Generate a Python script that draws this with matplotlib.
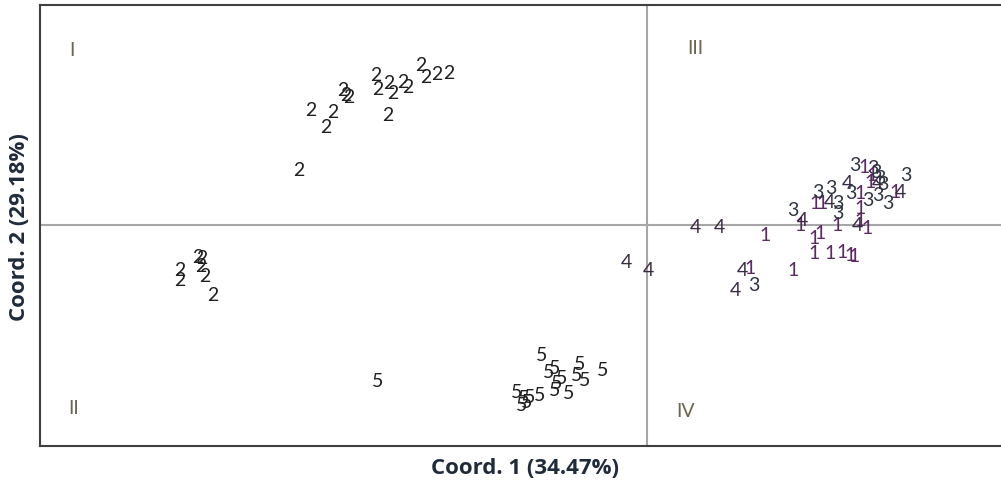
import matplotlib
matplotlib.use("Agg")
import matplotlib.pyplot as plt

# Principal coordinates, one list per group (labels drawn as the group number)
g1_x = [0.59, 0.515, 0.73, 0.835, 0.865, 0.835, 0.915, 0.975, 1.015, 1.035, 0.765, 0.95,
        1.10, 0.84, 0.875, 1.065, 1.065, 1.065, 1.085, 1.125, 1.115, 1.235]
g1_y = [-0.05, -0.215, -0.225, -0.14, -0.04, -0.065, -0.14, -0.135, -0.15, -0.155, 0.0, 0.0,
        -0.015, 0.11, 0.11, 0.16, 0.085, 0.025, 0.29, 0.25, 0.215, 0.165]

g2_x = [-1.125, -1.10, -1.045, -0.99, -1.35, -1.34, -1.285, -1.265, -1.215, -1.19, -1.29,
        -1.515, -1.50, -1.485, -1.675, -1.565, -1.60, -1.735,
        -2.33, -2.33, -2.24, -2.22, -2.225, -2.205, -2.165]
g2_y = [0.80, 0.74, 0.755, 0.76, 0.75, 0.68, 0.71, 0.66, 0.715, 0.69, 0.55,
        0.675, 0.65, 0.64, 0.575, 0.565, 0.49, 0.275,
        -0.225, -0.275, -0.16, -0.165, -0.205, -0.255, -0.35]

g3_x = [0.535, 0.725, 0.85, 0.915, 0.95, 0.95, 1.015, 1.035, 1.125, 1.14, 1.16, 1.175,
        1.10, 1.15, 1.20, 1.29]
g3_y = [-0.30, 0.075, 0.165, 0.185, 0.11, 0.06, 0.16, 0.30, 0.285, 0.265, 0.235, 0.205,
        0.125, 0.15, 0.11, 0.25]

g4_x = [0.24, 0.36, -0.10, 0.01, 0.475, 0.44, 0.775, 0.91, 1.00, 1.15, 1.265, 1.05]
g4_y = [-0.01, -0.01, -0.185, -0.225, -0.225, -0.325, 0.025, 0.115, 0.21, 0.21, 0.165, 0.0]

g5_x = [-1.34, -0.525, -0.335, -0.22, -0.49, -0.46, -0.35, -0.31, -0.425, -0.45, -0.39,
        -0.46, -0.65, -0.535, -0.615, -0.585, -0.625, -0.60]
g5_y = [-0.78, -0.65, -0.695, -0.725, -0.735, -0.715, -0.75, -0.775, -0.765, -0.79, -0.84,
        -0.825, -0.835, -0.85, -0.865, -0.86, -0.90, -0.885]

groups = ["1", "2", "3", "4", "5"]
group_colors = ["#5c2a62", "#1f1f1f", "#2e3440", "#3a2a44", "#1f1f1f"]

quadrants = ["I", "II", "III", "IV"]
quad_x = [-2.865, -2.855, 0.24, 0.195]
quad_y = [0.875, -0.915, 0.885, -0.93]

x_label = "Coord. 1 (34.47%)"
y_label = "Coord. 2 (29.18%)"

plt.rcParams["font.family"] = ["Lato", "DejaVu Sans"]

fig = plt.figure(figsize=(10.01, 4.86), dpi=100)
ax = fig.add_axes([40 / 1001, 1 - 446 / 486, 1 - 40 / 1001 + 0.003, (446 - 5) / 486])
ax.set_xlim(-3.025, 1.78)
ax.set_ylim(-1.105, 1.1)

for sp in ax.spines.values():
    sp.set_color("#3f3f3f")
    sp.set_linewidth(1.5)
ax.spines["right"].set_visible(False)
ax.set_xticks([])
ax.set_yticks([])

ax.axvline(0, color="#a6a6a6", lw=1.5, zorder=1)
ax.axhline(0, color="#a6a6a6", lw=1.5, zorder=1)

series = [(g1_x, g1_y), (g2_x, g2_y), (g3_x, g3_y), (g4_x, g4_y), (g5_x, g5_y)]
for name, col, (xs, ys) in zip(groups, group_colors, series):
    for x, y in zip(xs, ys):
        ax.text(x, y, name, ha="center", va="center", fontsize=14, color=col, zorder=3)

for q, x, y in zip(quadrants, quad_x, quad_y):
    ax.text(x, y, q, ha="center", va="center", fontsize=14, color="#6b6650", zorder=3)

fig.text(525 / 1001, 1 - 468 / 486, x_label, ha="center", va="center",
         fontsize=16, fontweight="bold", color="#1f2a3a", family=["Open Sans", "DejaVu Sans"])
fig.text(20 / 1001, 1 - 227 / 486, y_label, ha="center", va="center", rotation=90,
         fontsize=16, fontweight="bold", color="#1f2a3a", family=["Open Sans", "DejaVu Sans"])

fig.savefig("out.png", dpi=100)
